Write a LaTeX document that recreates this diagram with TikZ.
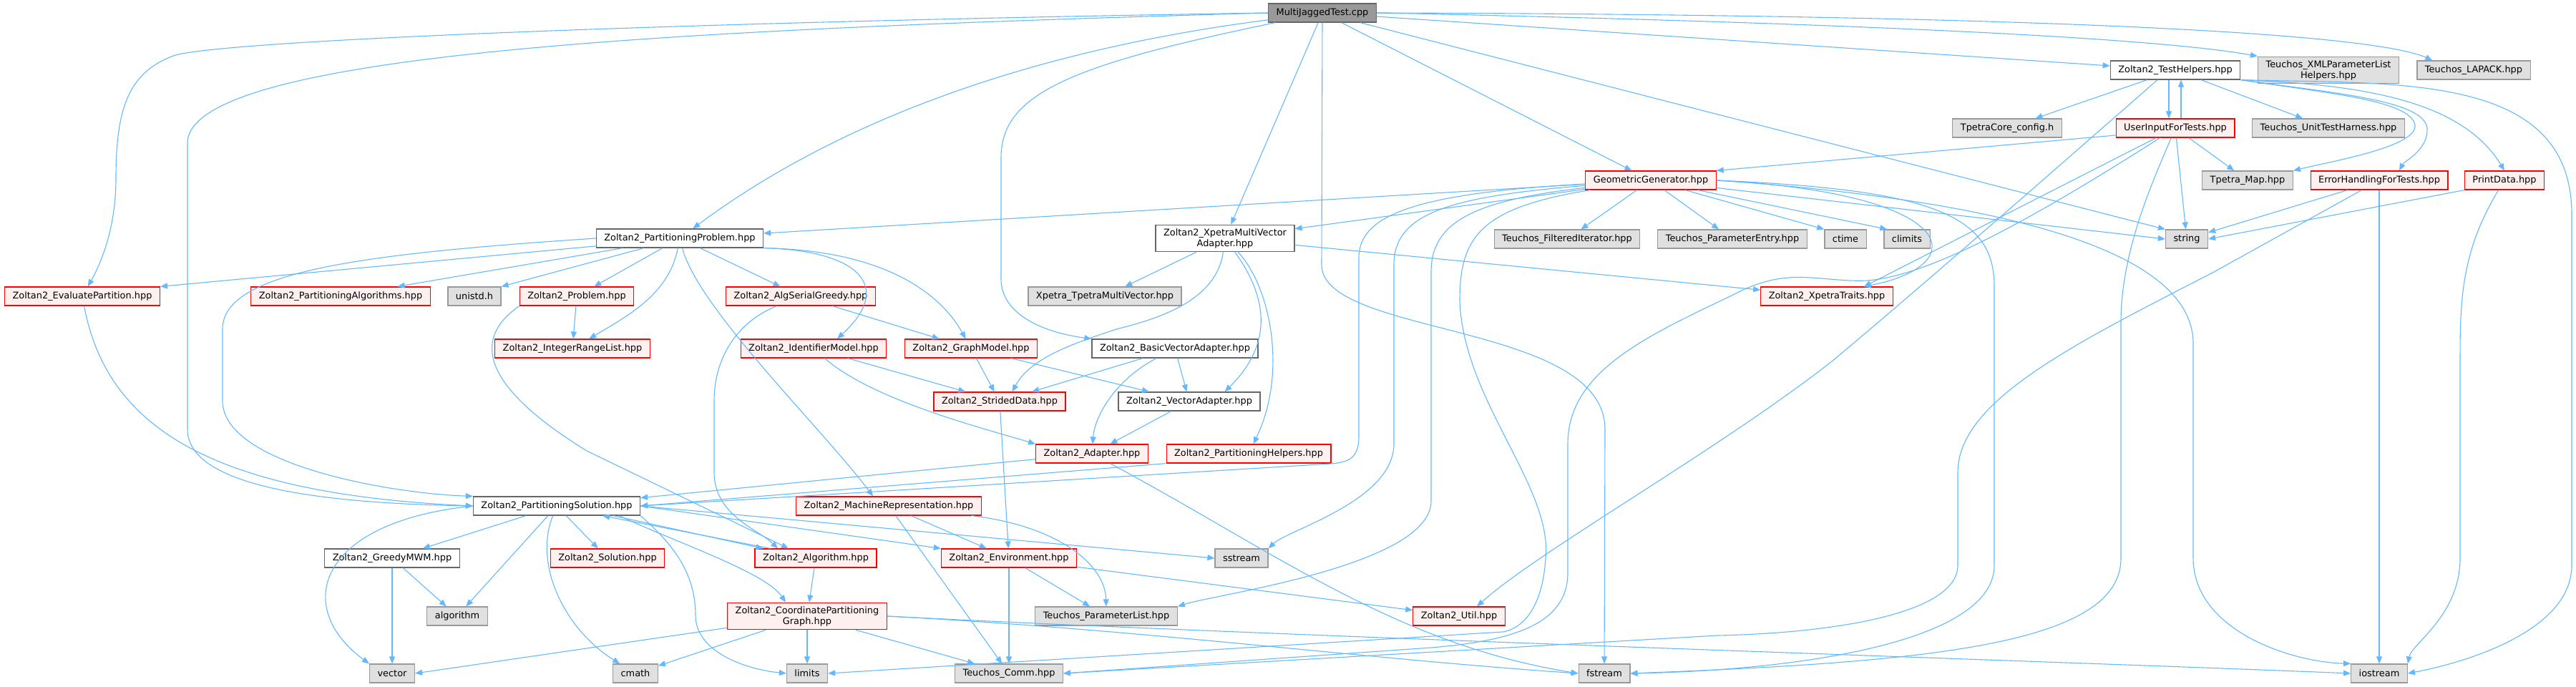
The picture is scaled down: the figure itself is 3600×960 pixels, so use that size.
\documentclass[tikz,border=0pt]{standalone}
\usepackage{fontspec}
\usetikzlibrary{arrows.meta}
\newfontfamily\dotfont{DejaVu Sans}
\definecolor{inclblue}{RGB}{99,184,255}
\definecolor{redfill}{RGB}{255,240,240}
\definecolor{sysfill}{RGB}{224,224,224}
\definecolor{sysline}{RGB}{153,153,153}
\definecolor{docline}{RGB}{102,102,102}
\definecolor{srcfill}{RGB}{153,153,153}
\tikzset{
    file/.style={rectangle, line width=1.2pt, minimum height=26pt, inner xsep=11pt, inner ysep=5pt, align=center, font=\dotfont\fontsize{12.9}{15}\selectfont},
    redfile/.style={file, draw=red, fill=redfill},
    sysfile/.style={file, draw=sysline, fill=sysfill},
    docfile/.style={file, draw=docline, fill=white},
    srcfile/.style={file, draw=docline, fill=srcfill},
    incl/.style={draw=inclblue, line width=1.1pt, -{Triangle[length=10pt,width=8pt]}}
}
\begin{document}
\begin{tikzpicture}[x=1pt,y=-1pt]
    \useasboundingbox (0,0) rectangle (3600,960);
    \node[srcfile] (mjt) at (1848,18) {MultiJaggedTest.cpp};
    \node[docfile] (thelp) at (3040,98) {Zoltan2\_TestHelpers.hpp};
    \node[sysfile] (xmlp) at (3254,98) {Teuchos\_XMLParameterList\\Helpers.hpp};
    \node[sysfile] (lapack) at (3457,98) {Teuchos\_LAPACK.hpp};
    \node[sysfile] (tcfg) at (2805,179) {TpetraCore\_config.h};
    \node[redfile] (uift) at (3040,179) {UserInputForTests.hpp};
    \node[sysfile] (uth) at (3254,179) {Teuchos\_UnitTestHarness.hpp};
    \node[redfile] (geo) at (2307,252) {GeometricGenerator.hpp};
    \node[sysfile] (tmap) at (3141,252) {Tpetra\_Map.hpp};
    \node[redfile] (ehft) at (3325,252) {ErrorHandlingForTests.hpp};
    \node[redfile] (pdata) at (3500,252) {PrintData.hpp};
    \node[docfile] (pprob) at (950,333) {Zoltan2\_PartitioningProblem.hpp};
    \node[docfile] (xmva) at (1712,333) {Zoltan2\_XpetraMultiVector\\Adapter.hpp};
    \node[sysfile] (filt) at (2190,334) {Teuchos\_FilteredIterator.hpp};
    \node[sysfile] (pentry) at (2421,334) {Teuchos\_ParameterEntry.hpp};
    \node[sysfile] (ctime) at (2579,334) {ctime};
    \node[sysfile] (climits) at (2665,334) {climits};
    \node[sysfile] (str) at (3056,334) {string};
    \node[redfile] (eval) at (115,414) {Zoltan2\_EvaluatePartition.hpp};
    \node[redfile] (palg) at (476,414) {Zoltan2\_PartitioningAlgorithms.hpp};
    \node[sysfile] (unistd) at (663,414) {unistd.h};
    \node[redfile] (prob) at (806,414) {Zoltan2\_Problem.hpp};
    \node[redfile] (greedy) at (1119,414) {Zoltan2\_AlgSerialGreedy.hpp};
    \node[sysfile] (tptmv) at (1544,414) {Xpetra\_TpetraMultiVector.hpp};
    \node[redfile] (xtr) at (2553,414) {Zoltan2\_XpetraTraits.hpp};
    \node[redfile] (irl) at (800,487) {Zoltan2\_IntegerRangeList.hpp};
    \node[redfile] (idm) at (1137,487) {Zoltan2\_IdentifierModel.hpp};
    \node[redfile] (gm) at (1357,487) {Zoltan2\_GraphModel.hpp};
    \node[docfile] (bva) at (1642,487) {Zoltan2\_BasicVectorAdapter.hpp};
    \node[redfile] (sd) at (1397,561) {Zoltan2\_StridedData.hpp};
    \node[docfile] (va) at (1662,561) {Zoltan2\_VectorAdapter.hpp};
    \node[redfile] (adp) at (1526,634) {Zoltan2\_Adapter.hpp};
    \node[redfile] (phelp) at (1745,634) {Zoltan2\_PartitioningHelpers.hpp};
    \node[docfile] (psol) at (778,707) {Zoltan2\_PartitioningSolution.hpp};
    \node[redfile] (mrep) at (1242,707) {Zoltan2\_MachineRepresentation.hpp};
    \node[docfile] (mwm) at (548,780) {Zoltan2\_GreedyMWM.hpp};
    \node[redfile] (sol) at (849,780) {Zoltan2\_Solution.hpp};
    \node[redfile] (algo) at (1140,780) {Zoltan2\_Algorithm.hpp};
    \node[redfile] (env) at (1410,780) {Zoltan2\_Environment.hpp};
    \node[sysfile] (sstr) at (1735,780) {sstream};
    \node[sysfile] (algor) at (639,861) {algorithm};
    \node[redfile] (cpg) at (1128,861) {Zoltan2\_CoordinatePartitioning\\Graph.hpp};
    \node[sysfile] (tpl) at (1546,861) {Teuchos\_ParameterList.hpp};
    \node[redfile] (util) at (2039,861) {Zoltan2\_Util.hpp};
    \node[sysfile] (vec) at (548,941) {vector};
    \node[sysfile] (cmath) at (888,941) {cmath};
    \node[sysfile] (lim) at (1128,941) {limits};
    \node[sysfile] (comm) at (1410,941) {Teuchos\_Comm.hpp};
    \node[sysfile] (fstr) at (2242,941) {fstream};
    \node[sysfile] (iostr) at (3325,941) {iostream};

    \draw[incl] (mjt.west) .. controls (1000,30) and (330,55) .. (245,77) .. controls (180,100) and (162,150) .. (162,250) .. controls (162,320) and (140,370) .. (eval);
    \draw[incl] (mjt.west) .. controls (1000,40) and (262,70) .. (262,200) -- (262,600) .. controls (262,690) and (500,704) .. (psol.west);
    \draw[incl] (mjt) .. controls (1600,50) and (1250,110) .. (pprob);
    \draw[incl] (mjt) .. controls (1500,90) and (1399,130) .. (1399,220) -- (1399,390) .. controls (1399,440) and (1460,465) .. (bva.north west);
    \draw[incl] (mjt) -- (xmva);
    \draw[incl] (mjt) -- (1847,370) .. controls (1847,470) and (2243,450) .. (2243,600) -- (fstr);
    \draw[incl] (mjt) -- (geo);
    \draw[incl] (mjt) -- (str.north west);
    \draw[incl] (mjt) -- (thelp);
    \draw[incl] (mjt.east) .. controls (2500,30) and (3000,50) .. (xmlp.north west);
    \draw[incl] (mjt.east) .. controls (2700,20) and (3300,40) .. ([xshift=22pt]lapack.north west);

    \draw[incl] (pprob) -- (eval.north east);
    \draw[incl] (pprob.west) .. controls (500,355) and (311,380) .. (311,460) -- (311,560) .. controls (311,650) and (550,690) .. (psol.north west);
    \draw[incl] (pprob) -- (palg);
    \draw[incl] (pprob) -- (unistd.north east);
    \draw[incl] (pprob) -- (prob);
    \draw[incl] (pprob) .. controls (935,410) and (880,440) .. (irl);
    \draw[incl] (pprob) -- (greedy);
    \draw[incl] (pprob) .. controls (975,430) and (1150,600) .. ([xshift=-22pt]mrep.north);
    \draw[incl] (pprob.south east) .. controls (1200,350) and (1250,400) .. ([xshift=33pt]idm.north);
    \draw[incl] (pprob.south east) .. controls (1250,350) and (1320,420) .. (gm);

    \draw[incl] (prob) -- (irl);
    \draw[incl] (prob.south west) .. controls (650,480) and (690,550) .. (820,630) -- ([xshift=-38pt]algo.north);
    \draw[incl] (greedy) -- (gm);
    \draw[incl] (greedy) .. controls (1030,450) and (998,500) .. (998,560) -- (998,660) .. controls (998,720) and (1060,740) .. ([xshift=-53pt]algo.north);
    \draw[incl] (idm) -- (sd);
    \draw[incl] (idm) .. controls (1220,560) and (1380,600) .. (adp.north west);
    \draw[incl] (gm) -- (sd);
    \draw[incl] (gm) -- (va);
    \draw[incl] (bva) -- (sd);
    \draw[incl] (bva) -- (va);
    \draw[incl] (bva) .. controls (1560,530) and (1530,580) .. (adp);

    \draw[incl] (xmva) -- (tptmv);
    \draw[incl] (xmva) .. controls (1700,420) and (1620,445) .. (1560,460) .. controls (1500,480) and (1440,500) .. ([xshift=-75pt]sd.north east);
    \draw[incl] (xmva) .. controls (1760,400) and (1790,470) .. ([xshift=-50pt]va.north east);
    \draw[incl] (xmva) .. controls (1775,400) and (1800,520) .. (phelp);
    \draw[incl] (xmva) -- (xtr);

    \draw[incl] (va) -- (adp);
    \draw[incl] (sd) -- (env);
    \draw[incl] (adp) -- (psol);
    \draw[incl] (adp) .. controls (1780,770) and (1950,900) .. (fstr.west);
    \draw[incl] (phelp.south west) -- (psol.east);
    \draw[incl] (mrep) -- (env);
    \draw[incl] (mrep) -- (comm);
    \draw[incl] (mrep) .. controls (1480,735) and (1545,790) .. (tpl);
    \draw[incl] (env) -- (comm);
    \draw[incl] (env) -- (tpl);
    \draw[incl] (env) -- (util);

    \draw[incl] (psol) -- (mwm);
    \draw[incl] (psol) -- (algor);
    \draw[incl] (psol) -- (sol);
    \draw[incl] (psol) .. controls (745,790) and (790,880) .. (cmath);
    \draw[incl] (psol.south east) .. controls (940,760) and (972,800) .. (972,860) .. controls (972,910) and (1040,935) .. (lim.west);
    \draw[incl] (psol.west) .. controls (440,730) and (410,850) .. (vec.north west);
    \draw[incl] ([xshift=-30pt]psol.south east) .. controls (950,760) and (1070,800) .. ([xshift=-30pt]cpg.north);
    \draw[incl] ([xshift=-38pt]psol.south east) -- ([xshift=12pt]algo.north west);
    \draw[incl] ([xshift=22pt]algo.north west) -- ([xshift=-53pt]psol.south east);
    \draw[incl] (psol.east) -- (env.north west);
    \draw[incl] (psol.east) -- (sstr.west);
    \draw[incl] (algo) -- (cpg);
    \draw[incl] (cpg) -- (vec.east);
    \draw[incl] (cpg) -- (cmath);
    \draw[incl] (cpg) -- (lim);
    \draw[incl] (cpg) -- (comm);
    \draw[incl] (cpg.east) .. controls (1600,880) and (1900,920) .. (fstr.west);
    \draw[incl] (cpg.east) .. controls (1800,890) and (2900,925) .. (iostr.west);
    \draw[incl] (mwm) -- (vec);
    \draw[incl] (mwm) -- (algor);
    \draw[incl] (eval) .. controls (150,600) and (300,690) .. (psol.west);

    \draw[incl] (geo) -- (pprob);
    \draw[incl] (geo) -- (xmva);
    \draw[incl] (geo) -- (filt);
    \draw[incl] (geo) -- (pentry);
    \draw[incl] (geo) -- (ctime.north west);
    \draw[incl] (geo) -- ([xshift=5pt]climits.north west);
    \draw[incl] (geo) -- (str.west);
    \draw[incl] (geo.east) .. controls (2740,270) and (2760,370) .. ([xshift=-41pt]xtr.north east);
    \draw[incl] (geo.east) .. controls (2800,280) and (3065,350) .. (3065,480) -- (3065,780) .. controls (3065,880) and (3200,925) .. (iostr.north west);
    \draw[incl] (geo.east) .. controls (2700,265) and (2787,300) .. (2787,400) -- (2787,790) .. controls (2787,900) and (2500,937) .. (fstr.east);
    \draw[incl] (geo) .. controls (1980,270) and (1899,300) .. (1899,360) -- (1899,610) .. controls (1899,640) and (1885,646) .. (1860,648) -- (psol.east);
    \draw[incl] (geo) .. controls (2020,275) and (1948,300) .. (1948,370) -- (1948,620) .. controls (1948,700) and (1800,740) .. (sstr.north east);
    \draw[incl] (geo) .. controls (2060,280) and (2000,310) .. (2000,380) -- (2000,700) .. controls (2000,790) and (1700,830) .. (tpl.north east);
    \draw[incl] (geo) .. controls (2070,290) and (2040,330) .. (2040,420) .. controls (2045,560) and (2170,680) .. (2160,780) .. controls (2155,860) and (2120,880) .. (2100,883) -- (lim.east);

    \draw[incl] ([xshift=-9pt]thelp.south) -- ([xshift=-9pt]uift.north);
    \draw[incl] ([xshift=8pt]uift.north) -- ([xshift=8pt]thelp.south);
    \draw[incl] ([yshift=-10pt]uift.west) -- (geo.north east);
    \draw[incl] (uift) -- (tmap);
    \draw[incl] (uift) -- (str);
    \draw[incl] (uift) -- ([xshift=-41pt]xtr.north east);
    \draw[incl] (uift) .. controls (2850,300) and (2700,385) .. (2610,392) .. controls (2540,395) and (2500,370) .. (2420,413) .. controls (2300,470) and (2191,520) .. (2191,620) -- (2191,800) .. controls (2191,870) and (2120,895) .. (2000,905) -- (comm.east);
    \draw[incl] (uift) .. controls (3010,250) and (2964,350) .. (2964,450) -- (2964,780) .. controls (2964,900) and (2700,925) .. (fstr.east);
    \draw[incl] (ehft) -- (str);
    \draw[incl] (ehft) -- (3094,380) .. controls (2900,480) and (2736,560) .. (2736,660) -- (2736,790) .. controls (2736,860) and (2550,885) .. (2400,888) -- (comm.east);
    \draw[incl] (ehft) -- (iostr);
    \draw[incl] (pdata.south west) -- (str.east);
    \draw[incl] (pdata) .. controls (3440,350) and (3438,420) .. (3438,500) -- (3438,780) .. controls (3438,860) and (3370,900) .. (iostr.north east);

    \draw[incl] (thelp) -- (tcfg);
    \draw[incl] (thelp) -- (uth);
    \draw[incl] (thelp.south east) .. controls (3250,130) and (3370,140) .. (3375,175) .. controls (3378,205) and (3260,225) .. (tmap.north east);
    \draw[incl] (thelp.south east) .. controls (3260,130) and (3390,140) .. (3392,180) .. controls (3393,210) and (3360,225) .. ([xshift=28pt]ehft.north);
    \draw[incl] (thelp.south east) .. controls (3300,118) and (3440,140) .. (pdata.north);
    \draw[incl] (thelp.south east) .. controls (3350,118) and (3594,100) .. (3594,300) -- (3594,790) .. controls (3594,880) and (3450,925) .. (iostr.east);
    \draw[incl] ([xshift=-25pt]thelp.south) .. controls (2800,300) and (2650,430) .. (2560,505) .. controls (2400,630) and (2150,770) .. ([xshift=25pt]util.north);
\end{tikzpicture}
\end{document}
